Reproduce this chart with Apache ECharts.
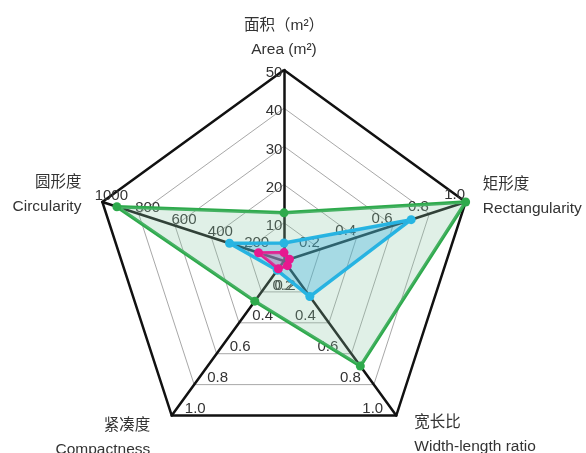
<!DOCTYPE html>
<html>
<head>
<meta charset="utf-8">
<script src="https://cdn.jsdelivr.net/npm/echarts@6/dist/echarts.min.js"></script>
<style>
  html, body { margin: 0; padding: 0; background: #fff; }
  #chart { width: 586px; height: 453px; }
</style>
</head>
<body>
<div id="chart"></div>
<script>
// Indicator names (Chinese / English) and axis maxima, counterclockwise from the top
const indicatorNames = [
  '面积（m²）\nArea (m²)',
  '圆形度\nCircularity',
  '紧凑度\nCompactness',
  '宽长比\nWidth-length ratio',
  '矩形度\nRectangularity'
];
const indicatorMax = [50, 1000, 1, 1, 1];

// Series values, same order as the indicators
const greenValues   = [12.6, 920, 0.26, 0.68, 1.0];
const cyanValues    = [4.7, 300, 0.06, 0.23, 0.70];
const magentaValues = [2.2, 140, 0.05, 0.03, 0.03];

const fontFamily = '"Liberation Sans", Arial, "Noto Sans CJK SC", sans-serif';

// Per-axis placement of the axis names
const nameStyle = [
  { gap: 32, align: 'center', padding: [0, 0, 0, 0] },
  { gap: 22, align: 'right',  padding: [0, 0, 2, 0] },
  { gap: 28, align: 'right',  padding: [0, 5, 8, 0] },
  { gap: 24, align: 'left',   padding: [0, 0, 5, 4] },
  { gap: 18, align: 'left',   padding: [0, 0, 4, 0] }
];
// Per-axis placement of the tick labels: margin moves them across the spoke,
// horizontal padding shifts them sideways and the line box height with
// top/bottom alignment shifts them up or down
const tickStyle = [
  { padding: [0, 20, 0, 0], vAlign: 'top',    lineHeight: 6,  margin: 0 },
  { padding: [0, 0, 0, 6],  vAlign: 'top',    lineHeight: 25, margin: -19.4 },
  { padding: [0, 0, 0, 47], vAlign: 'bottom', lineHeight: 13, margin: 0 },
  { padding: [0, 47, 0, 0], vAlign: 'bottom', lineHeight: 13, margin: 0 },
  { padding: [0, 12, 0, 0], vAlign: 'top',    lineHeight: 17, margin: 16 }
];

function tickText(v) {
  if (v === 0) return '';
  if (v <= 1) return v.toFixed(1);
  return String(v);
}

const indicators = indicatorNames.map((n, i) => ({
  name: n,
  min: 0,
  max: indicatorMax[i],
  nameGap: nameStyle[i].gap,
  nameMoveOverlap: false,
  nameTextStyle: {
    align: nameStyle[i].align,
    verticalAlign: 'middle',
    padding: nameStyle[i].padding
  },
  axisLabel: {
    align: 'center',
    verticalAlign: tickStyle[i].vAlign,
    lineHeight: tickStyle[i].lineHeight,
    margin: tickStyle[i].margin,
    padding: tickStyle[i].padding,
    showMaxLabel: true,
    hideOverlap: false
  }
}));

const chart = echarts.init(document.getElementById('chart'));
chart.setOption({
  animation: false,
  backgroundColor: '#fff',
  radar: [
    {
      center: [284, 261],
      radius: 191,
      splitNumber: 5,
      shape: 'polygon',
      indicator: indicators,
      axisName: {
        color: '#333',
        fontSize: 15.5,
        lineHeight: 24,
        fontFamily: fontFamily
      },
      axisLine: { lineStyle: { color: '#111', width: 2.5 } },
      splitLine: { lineStyle: { color: '#a8a8a8', width: 1 } },
      splitArea: { show: false },
      axisTick: { show: false },
      axisLabel: {
        show: true,
        color: '#333',
        fontSize: 15,
        fontFamily: fontFamily,
        formatter: tickText
      },
      z: 1
    },
    {
      // outer frame: a single black ring
      center: [284, 261],
      radius: 191,
      splitNumber: 1,
      shape: 'polygon',
      indicator: indicatorMax.map(m => ({ name: '', min: 0, max: m })),
      axisName: { show: false },
      axisLine: { show: false },
      splitLine: { lineStyle: { color: '#111', width: 2.5 } },
      splitArea: { show: false },
      axisTick: { show: false },
      axisLabel: { show: false },
      z: 1
    }
  ],
  series: [
    {
      type: 'radar',
      radarIndex: 0,
      symbol: 'circle',
      symbolSize: 9,
      z: 3,
      data: [
        {
          value: greenValues,
          itemStyle: { color: '#2eaa4c' },
          lineStyle: { color: '#2eaa4c', width: 3.5 },
          areaStyle: { color: 'rgba(140,200,165,0.38)' }
        },
        {
          value: cyanValues,
          itemStyle: { color: '#27b5e2' },
          lineStyle: { color: '#27b5e2', width: 3.5 },
          areaStyle: { color: 'rgba(40,170,224,0.45)' }
        },
        {
          value: magentaValues,
          itemStyle: { color: '#e6198f' },
          lineStyle: { color: '#e6198f', width: 3 },
          areaStyle: { color: 'rgba(190,110,170,0.55)' }
        }
      ]
    }
  ]
});
</script>
</body>
</html>
